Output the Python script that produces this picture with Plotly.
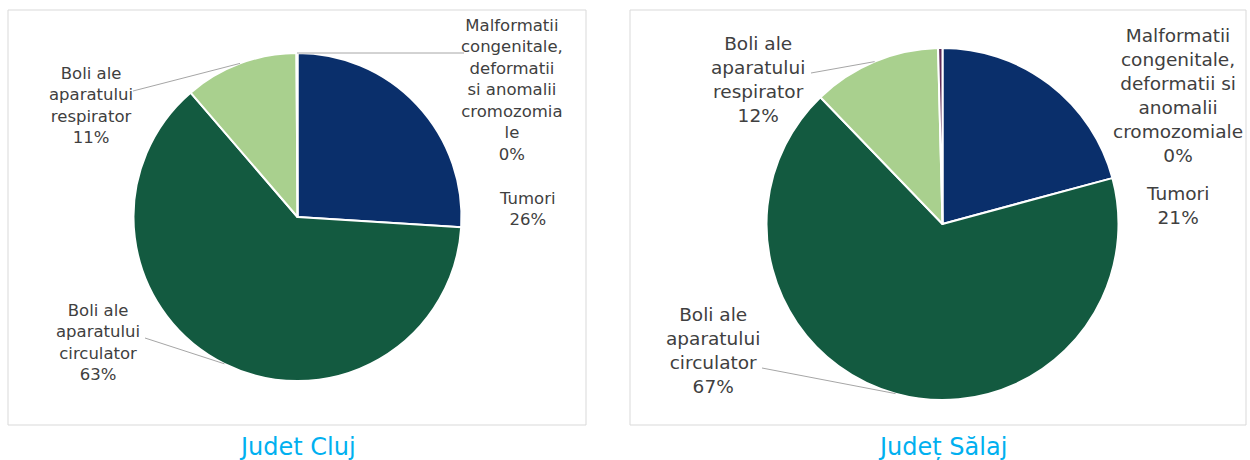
import math
import plotly.graph_objects as go

# Causes of death, share of total (%)
categories = [
    "Tumori",
    "Boli ale aparatului circulator",
    "Boli ale aparatului respirator",
    "Malformatii congenitale, deformatii si anomalii cromozomiale",
]
cluj_values = [26.0, 62.7, 11.2, 0.1]
salaj_values = [20.8, 67.0, 11.8, 0.4]

# Label text as it wraps on each chart
cluj_labels = [
    "Tumori",
    "Boli ale<br>aparatului<br>circulator",
    "Boli ale<br>aparatului<br>respirator",
    "Malformatii<br>congenitale,<br>deformatii<br>si anomalii<br>cromozomia<br>le",
]
salaj_labels = [
    "Tumori",
    "Boli ale<br>aparatului<br>circulator",
    "Boli ale<br>aparatului<br>respirator",
    "Malformatii<br>congenitale,<br>deformatii si<br>anomalii<br>cromozomiale",
]
titles = ["Judet Cluj", "Județ Sălaj"]

colors = ["#0A2F6B", "#135A40", "#A9D08E", "#5E2A58"]

W, H = 1250, 460
FONT = "DejaVu Sans, Verdana, sans-serif"
TEXT_COLOR = "#404040"


def px_to_paper(x, y):
    return x / W, 1 - y / H


# pie geometry in pixels: centre and radius
pies = [
    dict(cx=297.5, cy=217, r=164, values=cluj_values, labels=cluj_labels,
         font=16.5, box=(8, 10, 586, 425), title_x=297,
         # label centres and leader-line start (None = no leader line)
         label_pos=[(527, 209), (98, 342), (91, 105), (512, 90)],
         line_from=[None, (145, 338), (133, 91), (464, 53)]),
    dict(cx=942.5, cy=224, r=176, values=salaj_values, labels=salaj_labels,
         font=18.5, box=(630, 10, 1246, 425), title_x=942,
         label_pos=[(1177, 205), (713, 350), (758, 79), (1178, 95)],
         line_from=[None, (762, 368), (811, 73), None]),
]

fig = go.Figure()
shapes = []
annotations = []

for k, p in enumerate(pies):
    x0, y0 = px_to_paper(p["cx"] - p["r"], p["cy"] + p["r"])
    x1, y1 = px_to_paper(p["cx"] + p["r"], p["cy"] - p["r"])
    fig.add_trace(go.Pie(
        labels=categories,
        values=p["values"],
        sort=False,
        direction="clockwise",
        rotation=0,
        marker=dict(colors=colors, line=dict(color="white", width=2)),
        textinfo="none",
        hoverinfo="label+percent",
        showlegend=False,
        domain=dict(x=[x0, x1], y=[y0, y1]),
    ))

    # chart frame
    bx0, by0, bx1, by1 = p["box"]
    ax0, ay0 = px_to_paper(bx0, by1)
    ax1, ay1 = px_to_paper(bx1, by0)
    shapes.append(dict(type="rect", xref="paper", yref="paper",
                       x0=ax0, y0=ay0, x1=ax1, y1=ay1,
                       line=dict(color="#D9D9D9", width=1), fillcolor="rgba(0,0,0,0)",
                       layer="below"))

    total = sum(p["values"])
    cum = 0.0
    for i, v in enumerate(p["values"]):
        mid = (cum + v / 2) / total
        cum += v
        ang = 2 * math.pi * mid
        ex = p["cx"] + p["r"] * math.sin(ang)
        ey = p["cy"] - p["r"] * math.cos(ang)
        pct = round(100 * v / total)
        lx, ly = p["label_pos"][i]
        axp, ayp = px_to_paper(lx, ly)
        annotations.append(dict(
            x=axp, y=ayp, xref="paper", yref="paper", showarrow=False,
            text=f"{p['labels'][i]}<br>{pct}%", align="center",
            xanchor="center", yanchor="middle",
            font=dict(family=FONT, size=p["font"], color=TEXT_COLOR),
        ))
        lf = p["line_from"][i]
        if lf is not None:
            sx, sy = px_to_paper(*lf)
            tx, ty = px_to_paper(ex, ey)
            shapes.append(dict(type="line", xref="paper", yref="paper",
                               x0=sx, y0=sy, x1=tx, y1=ty,
                               line=dict(color="#A6A6A6", width=1)))

    tx, ty = px_to_paper(p["title_x"], 447)
    annotations.append(dict(
        x=tx, y=ty, xref="paper", yref="paper", showarrow=False,
        text=titles[k], xanchor="center", yanchor="middle",
        font=dict(family=FONT, size=24, color="#00B0F0"),
    ))

fig.update_layout(
    width=W, height=H,
    margin=dict(l=0, r=0, t=0, b=0),
    paper_bgcolor="white",
    plot_bgcolor="white",
    shapes=shapes,
    annotations=annotations,
)

fig.write_html("out.html")
